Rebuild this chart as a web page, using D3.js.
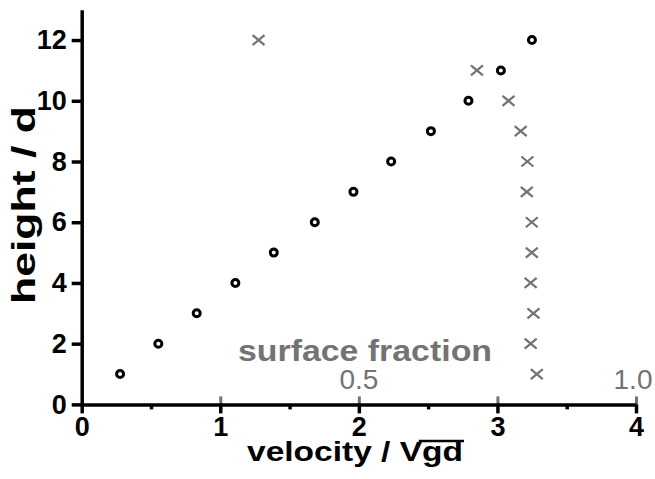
<!DOCTYPE html>
<html lang="en">
<head>
  <meta charset="UTF-8">
  <title>height vs velocity</title>
  <style>
    body { margin: 0; background: #fff; }
    text { font-family: "Liberation Sans", Arial, sans-serif; }
  </style>
</head>
<body>
<script src="https://cdn.jsdelivr.net/npm/d3@7"></script>
<script>
const heights = [1, 2, 3, 4, 5, 6, 7, 8, 9, 10, 11, 12]
const velocity = [0.277, 0.553, 0.830, 1.109, 1.386, 1.682, 1.961, 2.233, 2.520, 2.791, 3.025, 3.249]
const surfaceFraction = [0.821, 0.810, 0.815, 0.810, 0.812, 0.812, 0.803, 0.804, 0.792, 0.770, 0.713, 0.319]
const xTicks = [0, 1, 2, 3, 4]
const xMinorTicks = [0.5, 1.5, 2.5, 3.5]
const yTicks = [0, 2, 4, 6, 8, 10, 12]
const sfTicks = [0.25, 0.5, 0.75, 1.0]
const sfLabels = [0.5, 1.0]

const width = 655, height = 479
const grey = "#737373"

const svg = d3.select("body").append("svg")
  .attr("width", width)
  .attr("height", height)

const x = d3.scaleLinear().domain([0, 4]).range([81.7, 636])
const sf = d3.scaleLinear().domain([0, 1]).range([81.7, 636])
const y = d3.scaleLinear().domain([0, 13]).range([404.4, 9.7])

// grey ticks for surface fraction, pointing up
svg.append("g")
  .attr("transform", "translate(0," + y(0) + ")")
  .call(d3.axisTop(sf).tickValues(sfTicks).tickSize(8).tickFormat(""))
  .call(g => g.select(".domain").remove())
  .call(g => g.selectAll("line").attr("stroke", grey).attr("stroke-width", 3))

svg.selectAll(".sflab")
  .data(sfLabels)
  .enter().append("text")
  .attr("x", d => sf(d) - (d === 1 ? 3 : 0))
  .attr("y", 389)
  .attr("text-anchor", "middle")
  .attr("fill", grey)
  .attr("font-size", 28)
  .text(d => d3.format(".1f")(d))

svg.append("text")
  .attr("x", 365)
  .attr("y", 361)
  .attr("text-anchor", "middle")
  .attr("fill", grey)
  .attr("font-size", 29)
  .attr("font-weight", "bold")
  .attr("textLength", 254)
  .attr("lengthAdjust", "spacingAndGlyphs")
  .text("surface fraction")

// minor ticks on velocity axis
svg.append("g")
  .attr("transform", "translate(0," + y(0) + ")")
  .call(d3.axisBottom(x).tickValues(xMinorTicks).tickSize(5).tickFormat(""))
  .call(g => g.select(".domain").remove())
  .call(g => g.selectAll("line").attr("stroke", "#000").attr("stroke-width", 3.5))

const xAxis = svg.append("g")
  .attr("transform", "translate(0," + y(0) + ")")
  .call(d3.axisBottom(x).tickValues(xTicks).tickSize(9).tickSizeOuter(0).tickPadding(4).tickFormat(d3.format("d")))

const yAxis = svg.append("g")
  .attr("transform", "translate(" + x(0) + ",0)")
  .call(d3.axisLeft(y).tickValues(yTicks).tickSize(10).tickSizeOuter(0).tickPadding(5).tickFormat(d3.format("d")))

;[xAxis, yAxis].forEach(g => {
  g.select(".domain").attr("stroke", "#000").attr("stroke-width", 3.5)
  g.selectAll("line").attr("stroke", "#000").attr("stroke-width", 3.5)
  g.selectAll("text")
    .attr("fill", "#000")
    .attr("font-size", 27)
    .attr("font-weight", "bold")
    .attr("font-family", "Liberation Sans, Arial, sans-serif")
})
xAxis.selectAll("text").attr("dy", "0.7em")

// axis titles
svg.append("text")
  .attr("transform", "translate(35,205) rotate(-90)")
  .attr("text-anchor", "middle")
  .attr("font-size", 33)
  .attr("font-weight", "bold")
  .attr("textLength", 198)
  .attr("lengthAdjust", "spacingAndGlyphs")
  .text("height / d")

const xTitle = svg.append("text")
  .attr("x", 355)
  .attr("y", 461)
  .attr("text-anchor", "middle")
  .attr("font-size", 28)
  .attr("font-weight", "bold")
  .attr("textLength", 216)
  .attr("lengthAdjust", "spacingAndGlyphs")
  .text("velocity / Vgd")

// overline for the square root
const node = xTitle.node()
const n = node.getNumberOfChars()
const vBox = node.getExtentOfChar(n - 3)
const dBox = node.getExtentOfChar(n - 1)
svg.append("line")
  .attr("x1", vBox.x + vBox.width * 0.85)
  .attr("x2", dBox.x + dBox.width + 1)
  .attr("y1", 441)
  .attr("y2", 441)
  .attr("stroke", "#000")
  .attr("stroke-width", 2.5)

// velocity points
svg.append("g")
  .selectAll("circle")
  .data(heights)
  .enter().append("circle")
  .attr("cx", (d, i) => x(velocity[i]))
  .attr("cy", d => y(d))
  .attr("r", 3.5)
  .attr("fill", "#fff")
  .attr("stroke", "#000")
  .attr("stroke-width", 3)

// surface fraction crosses
svg.append("g")
  .selectAll("path")
  .data(heights)
  .enter().append("path")
  .attr("transform", (d, i) => "translate(" + sf(surfaceFraction[i]) + "," + y(d) + ")")
  .attr("d", "M-6,-5L6,5M-6,5L6,-5")
  .attr("stroke", grey)
  .attr("stroke-width", 2.2)
  .attr("fill", "none")
</script>
</body>
</html>
